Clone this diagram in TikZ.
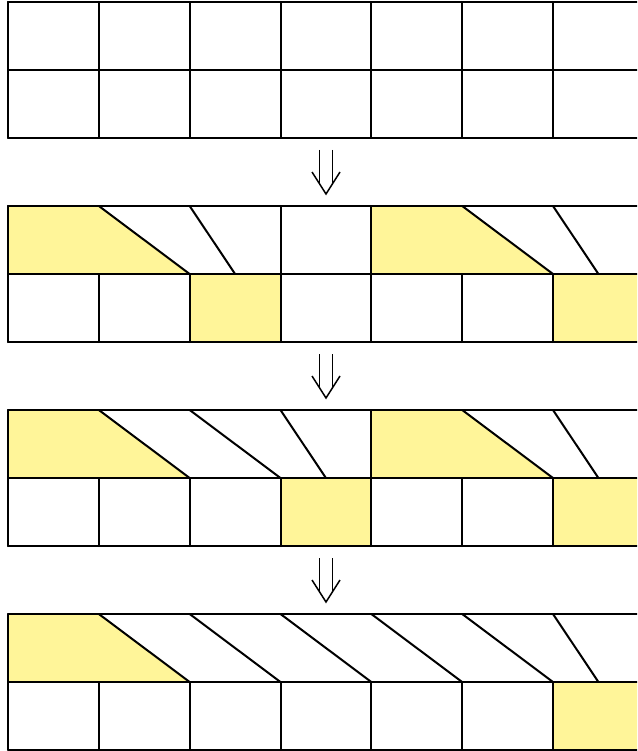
\documentclass[tikz,border=0pt]{standalone}
\definecolor{hlyellow}{RGB}{255,245,153}
\begin{document}
\begin{tikzpicture}[x=1pt,y=-1pt,
  gridline/.style={draw=black,line width=2pt,line cap=round,line join=round},
  marked/.style={fill=hlyellow},
  shaft/.style={draw=black,line width=1.5pt},
]
\useasboundingbox (0,0) rectangle (637,751);
\clip (0,0) rectangle (637,751);
\def\w{90.833}
\def\h{68}
% column positions
\foreach \i in {0,...,7} { \pgfmathsetmacro\xx{8+\i*\w} \expandafter\xdef\csname cx\i\endcsname{\xx} }
\def\X#1{\csname cx#1\endcsname}

% ---------- row 1: plain grid ----------
\def\y{2}
\foreach \r in {0,1,2} \draw[gridline] (8,\y+\r*\h) -- (660,\y+\r*\h);
\foreach \i in {0,...,6} \draw[gridline] (\X{\i},\y) -- (\X{\i},\y+2*\h);

% ---------- row 2 ----------
\def\y{206}
\fill[marked] (\X0,\y) -- (\X1,\y) -- (\X2,\y+\h) -- (\X0,\y+\h) -- cycle;
\fill[marked] (\X4,\y) -- (\X5,\y) -- (\X6,\y+\h) -- (\X4,\y+\h) -- cycle;
\fill[marked] (\X2,\y+\h) rectangle (\X3,\y+2*\h);
\fill[marked] (\X6,\y+\h) rectangle (660,\y+2*\h);
\foreach \r in {0,1,2} \draw[gridline] (8,\y+\r*\h) -- (660,\y+\r*\h);
\foreach \i in {0,3,4} \draw[gridline] (\X{\i},\y) -- (\X{\i},\y+\h);
\foreach \i in {0,...,6} \draw[gridline] (\X{\i},\y+\h) -- (\X{\i},\y+2*\h);
\draw[gridline] (\X1,\y) -- (\X2,\y+\h);
\draw[gridline] (\X5,\y) -- (\X6,\y+\h);
\draw[gridline] (\X2,\y) -- (\X2+\w/2,\y+\h);
\draw[gridline] (\X6,\y) -- (\X6+\w/2,\y+\h);

% ---------- row 3 ----------
\def\y{410}
\fill[marked] (\X0,\y) -- (\X1,\y) -- (\X2,\y+\h) -- (\X0,\y+\h) -- cycle;
\fill[marked] (\X4,\y) -- (\X5,\y) -- (\X6,\y+\h) -- (\X4,\y+\h) -- cycle;
\fill[marked] (\X3,\y+\h) rectangle (\X4,\y+2*\h);
\fill[marked] (\X6,\y+\h) rectangle (660,\y+2*\h);
\foreach \r in {0,1,2} \draw[gridline] (8,\y+\r*\h) -- (660,\y+\r*\h);
\foreach \i in {0,4} \draw[gridline] (\X{\i},\y) -- (\X{\i},\y+\h);
\foreach \i in {0,...,6} \draw[gridline] (\X{\i},\y+\h) -- (\X{\i},\y+2*\h);
\draw[gridline] (\X1,\y) -- (\X2,\y+\h);
\draw[gridline] (\X2,\y) -- (\X3,\y+\h);
\draw[gridline] (\X5,\y) -- (\X6,\y+\h);
\draw[gridline] (\X3,\y) -- (\X3+\w/2,\y+\h);
\draw[gridline] (\X6,\y) -- (\X6+\w/2,\y+\h);

% ---------- row 4 ----------
\def\y{614}
\fill[marked] (\X0,\y) -- (\X1,\y) -- (\X2,\y+\h) -- (\X0,\y+\h) -- cycle;
\fill[marked] (\X6,\y+\h) rectangle (660,\y+2*\h);
\foreach \r in {0,1} \draw[gridline] (8,\y+\r*\h) -- (660,\y+\r*\h);
\draw[gridline] (8,749.8) -- (660,749.8);
\draw[gridline] (\X0,\y) -- (\X0,\y+\h);
\foreach \i in {0,...,6} \draw[gridline] (\X{\i},\y+\h) -- (\X{\i},749.8);
\foreach \i/\j in {1/2,2/3,3/4,4/5,5/6} \draw[gridline] (\X{\i},\y) -- (\X{\j},\y+\h);
\draw[gridline] (\X6,\y) -- (\X6+\w/2,\y+\h);

% ---------- double arrows between the rows ----------
\foreach \t [count=\k] in {150,354,558} {
  \coordinate (tip\k) at (326,\t+44);
  \draw[shaft] (319.5,\t) -- (319.5,\t+33.8);
  \draw[shaft] (332.5,\t) -- (332.5,\t+33.8);
  \draw[shaft,line join=miter] (312,\t+22) -- (tip\k) -- (340,\t+22);
}
\end{tikzpicture}
\end{document}
